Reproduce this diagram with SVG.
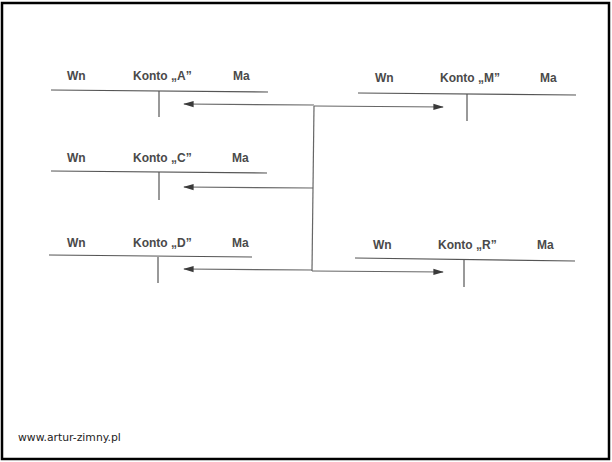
<svg xmlns="http://www.w3.org/2000/svg" width="612" height="462" viewBox="0 0 612 462">
<defs>
<style>
.t{font-family:"Liberation Sans Narrow","Liberation Sans",Arial,sans-serif;font-size:12px;font-weight:bold;fill:#4a4a4a}
.ln{stroke:#555;stroke-width:1.2;fill:none}
.ar{stroke:#666;stroke-width:1.2;fill:none}
.url{font-family:"DejaVu Sans",Verdana,sans-serif;font-size:10.8px;fill:#222}
</style>
<marker id="ah" viewBox="0 0 12 8" refX="11" refY="4" markerWidth="12" markerHeight="7" markerUnits="userSpaceOnUse" orient="auto">
<path d="M0,0.5 L12,4 L0,7.5 Z" fill="#3a3a3a"/>
</marker>
</defs>
<rect x="0" y="0" width="612" height="462" fill="#fff"/>
<rect x="2" y="3" width="607" height="456" fill="none" stroke="#000" stroke-width="2.5"/>

<g id="konto-a">
<text class="t" x="67" y="80">Wn</text>
<text class="t" x="133" y="80">Konto „A”</text>
<text class="t" x="233" y="80">Ma</text>
<line class="ln" x1="51" y1="90" x2="268" y2="92"/>
<line class="ln" x1="159" y1="91" x2="159" y2="117"/>
</g>
<g id="konto-m">
<text class="t" x="375" y="82">Wn</text>
<text class="t" x="440" y="82">Konto „M”</text>
<text class="t" x="540" y="82">Ma</text>
<line class="ln" x1="358" y1="93" x2="576" y2="95"/>
<line class="ln" x1="467" y1="94" x2="467" y2="121"/>
</g>
<g id="konto-c">
<text class="t" x="67" y="162">Wn</text>
<text class="t" x="133" y="162">Konto „C”</text>
<text class="t" x="232" y="162">Ma</text>
<line class="ln" x1="51" y1="171" x2="267" y2="173"/>
<line class="ln" x1="159" y1="172" x2="159" y2="200"/>
</g>
<g id="konto-d">
<text class="t" x="67" y="247">Wn</text>
<text class="t" x="133" y="247">Konto „D”</text>
<text class="t" x="232" y="247">Ma</text>
<line class="ln" x1="49" y1="255" x2="252" y2="257"/>
<line class="ln" x1="158" y1="257" x2="158" y2="283"/>
</g>
<g id="konto-r">
<text class="t" x="373" y="249">Wn</text>
<text class="t" x="438" y="249">Konto „R”</text>
<text class="t" x="537" y="249">Ma</text>
<line class="ln" x1="355" y1="258" x2="575" y2="261"/>
<line class="ln" x1="464" y1="260" x2="464" y2="287"/>
</g>

<g id="connectors">
<line class="ar" x1="314" y1="106" x2="312" y2="271"/>
<line class="ar" x1="314" y1="105" x2="184" y2="104" marker-end="url(#ah)"/>
<line class="ar" x1="314" y1="106" x2="443" y2="107" marker-end="url(#ah)"/>
<line class="ar" x1="313" y1="188" x2="184" y2="187" marker-end="url(#ah)"/>
<line class="ar" x1="312" y1="270" x2="184" y2="269" marker-end="url(#ah)"/>
<line class="ar" x1="312" y1="271" x2="443" y2="272" marker-end="url(#ah)"/>
</g>

<text class="url" x="18" y="441">www.artur-zimny.pl</text>
</svg>
